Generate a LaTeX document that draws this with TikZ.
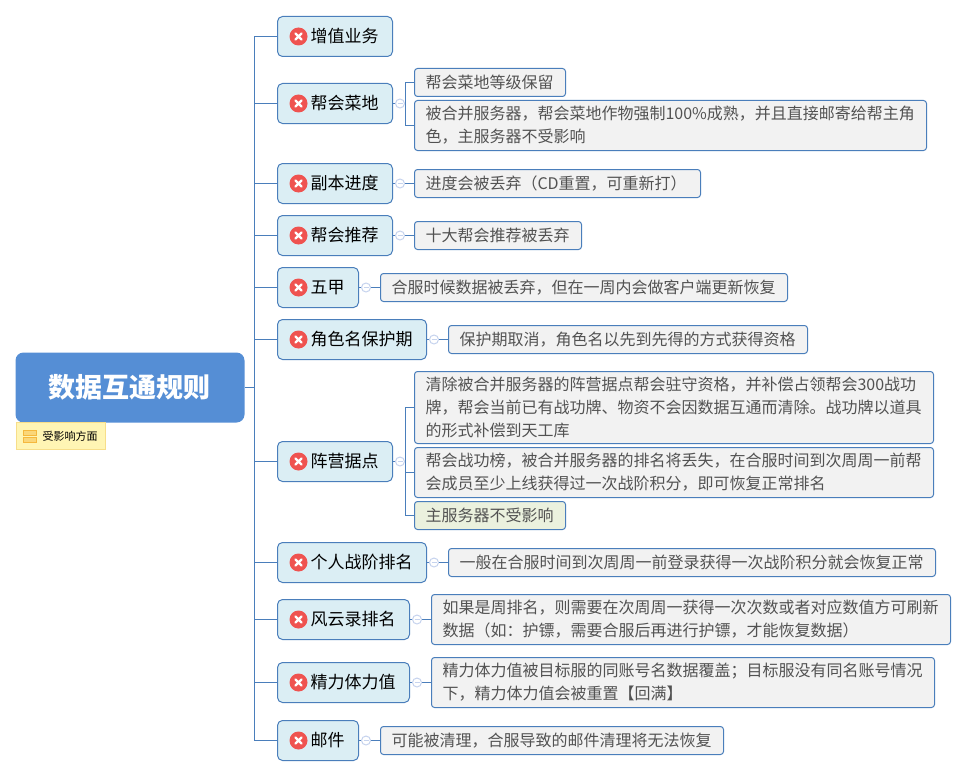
\documentclass[tikz,border=0pt]{standalone}
\usepackage{fontspec}
\setmainfont{Noto Sans CJK SC}
\usepackage{xcolor}
\definecolor{linkblue}{HTML}{4A7EBB}
\definecolor{rootblue}{HTML}{558ED5}
\definecolor{topicblue}{HTML}{DBEEF4}
\definecolor{detailgrey}{HTML}{F2F2F2}
\definecolor{detailgreen}{HTML}{EBF1DE}
\definecolor{iconred}{HTML}{EF5350}
\definecolor{foldblue}{HTML}{C6D3EE}
\definecolor{notefill}{HTML}{FFF5B4}
\definecolor{noteline}{HTML}{F7DE8A}
\definecolor{notebar}{HTML}{F5B83D}
\tikzset{
    link/.style={draw=linkblue,line width=1pt},
    root/.style={fill=rootblue,rounded corners=8pt,minimum width=229pt,minimum height=70pt,inner sep=0pt,text=white,font=\fontsize{27}{30}\selectfont\bfseries},
    topic/.style={draw=linkblue,line width=1pt,outer sep=0pt,fill=topicblue,rounded corners=5pt,anchor=west,minimum height=40pt,inner xsep=14pt,inner ysep=0pt,text width=#1,align=right,font=\fontsize{17}{20}\selectfont},
    detail/.style={draw=linkblue,line width=1pt,outer sep=0pt,fill=detailgrey,rounded corners=3pt,anchor=west,inner xsep=11pt,inner ysep=0pt,text width=#1,align=left,text=black!68,font=\fontsize{16}{23}\selectfont},
    icon/.style={circle,fill=iconred,minimum size=18pt,inner sep=0pt,path picture={
        \draw[white,line width=2.4pt,line cap=round] (path picture bounding box.center) ++(-3pt,-3pt) -- ++(6pt,6pt) ++(-6pt,0) -- ++(6pt,-6pt);}},
    fold/.style={circle,draw=foldblue,fill=white,minimum size=9pt,inner sep=0pt,line width=1pt,path picture={
        \draw[foldblue,line width=1pt] (path picture bounding box.center) ++(-2.5pt,0) -- ++(5pt,0);}},
}
\begin{document}
\begin{tikzpicture}[x=1pt,y=-1pt]
    \useasboundingbox (-0.5,-0.5) rectangle (966.5,775.5);

    \node [root] (r) at (129.5,387) {数据互通规则};
    \node [draw=noteline,line width=1pt,outer sep=0pt,fill=notefill,anchor=north west,minimum height=27pt,inner ysep=0pt,inner xsep=8pt,text width=73pt,align=right,font=\fontsize{11}{13}\selectfont] (n) at (16,422) {受影响方面};
    \fill [notefill!50!notebar,draw=notebar,line width=0.7pt] (22.5,430) rectangle (35.5,434.5) (22.5,437) rectangle (35.5,441.5);

    \coordinate (c0) at (254,387);

    \node [topic=87pt] (t1) at (277,36) {增值业务};
    \node [topic=87pt] (t2) at (277,103) {帮会菜地};
    \node [topic=87pt] (t3) at (277,183) {副本进度};
    \node [topic=87pt] (t4) at (277,235) {帮会推荐};
    \node [topic=53pt] (t5) at (277,287) {五甲};
    \node [topic=121pt] (t6) at (277,339) {角色名保护期};
    \node [topic=87pt] (t7) at (277,461) {阵营据点};
    \node [topic=121pt] (t8) at (277,562) {个人战阶排名};
    \node [topic=104pt] (t9) at (277,619) {风云录排名};
    \node [topic=104pt] (t10) at (277,682) {精力体力值};
    \node [topic=53pt] (t11) at (277,740) {邮件};

    \foreach \i/\y in {1/36,2/103,3/183,4/235,5/287,6/339,7/461,8/562,9/619,10/682,11/740}
        \node [icon] (i\i) at (298,\y) {};

    \node [detail=129pt,minimum height=28pt] (d21) at (414,82) {帮会菜地等级保留};
    \node [detail=490pt,minimum height=50pt] (d22) at (414,125) {被合并服务器，帮会菜地作物强制100\%成熟，并且直接邮寄给帮主角\\色，主服务器不受影响};
    \node [detail=264pt,minimum height=28pt] (d3) at (414,183) {进度会被丢弃（CD重置，可重新打）};
    \node [detail=145pt,minimum height=28pt] (d4) at (414,235) {十大帮会推荐被丢弃};
    \node [detail=385pt,minimum height=28pt] (d5) at (380,287) {合服时候数据被丢弃，但在一周内会做客户端更新恢复};
    \node [detail=337pt,minimum height=28pt] (d6) at (448,339) {保护期取消，角色名以先到先得的方式获得资格};
    \node [detail=497pt,minimum height=72pt] (d71) at (414,407) {清除被合并服务器的阵营据点帮会驻守资格，并补偿占领帮会300战功\\牌，帮会当前已有战功牌、物资不会因数据互通而清除。战功牌以道具\\的形式补偿到天工库};
    \node [detail=497pt,minimum height=50pt] (d72) at (414,472) {帮会战功榜，被合并服务器的排名将丢失，在合服时间到次周周一前帮\\会成员至少上线获得过一次战阶积分，即可恢复正常排名};
    \node [detail=129pt,minimum height=28pt,fill=detailgreen] (d73) at (414,515) {主服务器不受影响};
    \node [detail=465pt,minimum height=28pt] (d8) at (448,562) {一般在合服时间到次周周一前登录获得一次战阶积分就会恢复正常};
    \node [detail=497pt,minimum height=50pt] (d9) at (431,619) {如果是周排名，则需要在次周周一获得一次次数或者对应数值方可刷新\\数据（如：护镖，需要合服后再进行护镖，才能恢复数据）};
    \node [detail=481pt,minimum height=50pt] (d10) at (431,682) {精力体力值被目标服的同账号名数据覆盖；目标服没有同名账号情况\\下，精力体力值会被重置【回满】};
    \node [detail=321pt,minimum height=28pt] (d11) at (380,740) {可能被清理，合服导致的邮件清理将无法恢复};

    \coordinate (b2) at (405,103);
    \coordinate (b7) at (405,461);

    \draw [link] (r) -- (c0);
    \foreach \i in {1,...,11}
        \draw [link] (c0) |- (t\i);

    \draw [link] (t2) -- (b2);
    \draw [link] (b2) |- (d21);
    \draw [link] (b2) |- (d22);
    \draw [link] (t3) -- (d3);
    \draw [link] (t4) -- (d4);
    \draw [link] (t5) -- (d5);
    \draw [link] (t6) -- (d6);
    \draw [link] (t7) -- (b7);
    \draw [link] (b7) |- (d71);
    \draw [link] (b7) |- (d72);
    \draw [link] (b7) |- (d73);
    \draw [link] (t8) -- (d8);
    \draw [link] (t9) -- (d9);
    \draw [link] (t10) -- (d10);
    \draw [link] (t11) -- (d11);

    \node [fold] (f2) at (399.5,103) {};
    \node [fold] (f3) at (399.5,183) {};
    \node [fold] (f4) at (399.5,235) {};
    \node [fold] (f5) at (365.5,287) {};
    \node [fold] (f6) at (433.5,339) {};
    \node [fold] (f7) at (399.5,461) {};
    \node [fold] (f8) at (433.5,562) {};
    \node [fold] (f9) at (416.5,619) {};
    \node [fold] (f10) at (416.5,682) {};
    \node [fold] (f11) at (365.5,740) {};
\end{tikzpicture}
\end{document}
